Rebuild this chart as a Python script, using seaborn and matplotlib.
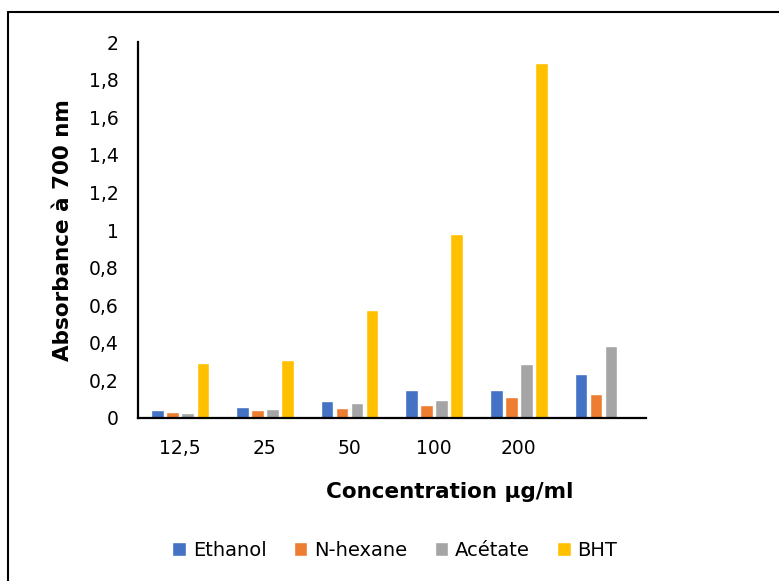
import numpy as np
import pandas as pd
import seaborn as sns
import matplotlib.pyplot as plt
from matplotlib.lines import Line2D
from matplotlib.ticker import FuncFormatter, MultipleLocator

concentrations = ["12,5", "25", "50", "100", "200", ""]
series = ["Ethanol", "N-hexane", "Acétate", "BHT"]
ethanol = [0.040, 0.060, 0.092, 0.148, 0.151, 0.236]
nhexane = [0.030, 0.045, 0.051, 0.069, 0.113, 0.127]
acetate = [0.025, 0.050, 0.081, 0.097, 0.289, 0.384]
bht = [0.290, 0.307, 0.573, 0.980, 1.886, np.nan]
colors = ["#4472C4", "#ED7D31", "#A5A5A5", "#FFC000"]

rows = []
for name, vals in zip(series, [ethanol, nhexane, acetate, bht]):
    for c, v in zip(concentrations, vals):
        rows.append({"Concentration": c, "Absorbance": v, "Série": name})
df = pd.DataFrame(rows)

sns.set_style("white")
plt.rcParams["font.family"] = ["DejaVu Sans"]
plt.rcParams["text.color"] = "black"

fig = plt.figure(figsize=(7.79, 5.81), dpi=100)
ax = fig.add_axes([0.177, 0.2806, 0.652, 0.647])
sns.barplot(data=df, x="Concentration", y="Absorbance", hue="Série",
            order=concentrations, hue_order=series, palette=colors,
            width=0.71, gap=0.17, saturation=1, errorbar=None, ax=ax)

ax.set_ylim(0, 2)
ax.set_xlim(-0.5, len(concentrations) - 0.5)
ax.yaxis.set_major_locator(MultipleLocator(0.2))
ax.yaxis.set_major_formatter(FuncFormatter(lambda v, p: f"{v:.1f}".rstrip("0").rstrip(".").replace(".", ",")))
ax.tick_params(axis="both", length=0, labelsize=13.5, colors="black")
ax.tick_params(axis="y", pad=14)
ax.tick_params(axis="x", pad=15)
for s in ["top", "right"]:
    ax.spines[s].set_visible(False)
for s in ["left", "bottom"]:
    ax.spines[s].set_color("black")
    ax.spines[s].set_linewidth(1.6)

ax.set_xlabel("Concentration µg/ml", fontsize=15.5, fontweight="bold", labelpad=18, color="black")
ax.xaxis.set_label_coords((450 - 138) / (646 - 138), -0.17)
ax.set_ylabel("Absorbance à 700 nm", fontsize=15.5, fontweight="bold", labelpad=11, color="black")

handles, labels = ax.get_legend_handles_labels()
ax.get_legend().remove()
fig.legend(handles, labels, loc="center", bbox_to_anchor=(0.507, 0.053), ncol=4,
           frameon=False, fontsize=14, handlelength=0.7, handleheight=0.7,
           handletextpad=0.35, columnspacing=1.4, labelcolor="black")

fig.add_artist(Line2D([8 / 779, 1], [1 - 12 / 581] * 2, transform=fig.transFigure, color="black", lw=1.5))
fig.add_artist(Line2D([8 / 779] * 2, [0, 1 - 12 / 581], transform=fig.transFigure, color="black", lw=1.5))

fig.savefig("out.png", dpi=100)
